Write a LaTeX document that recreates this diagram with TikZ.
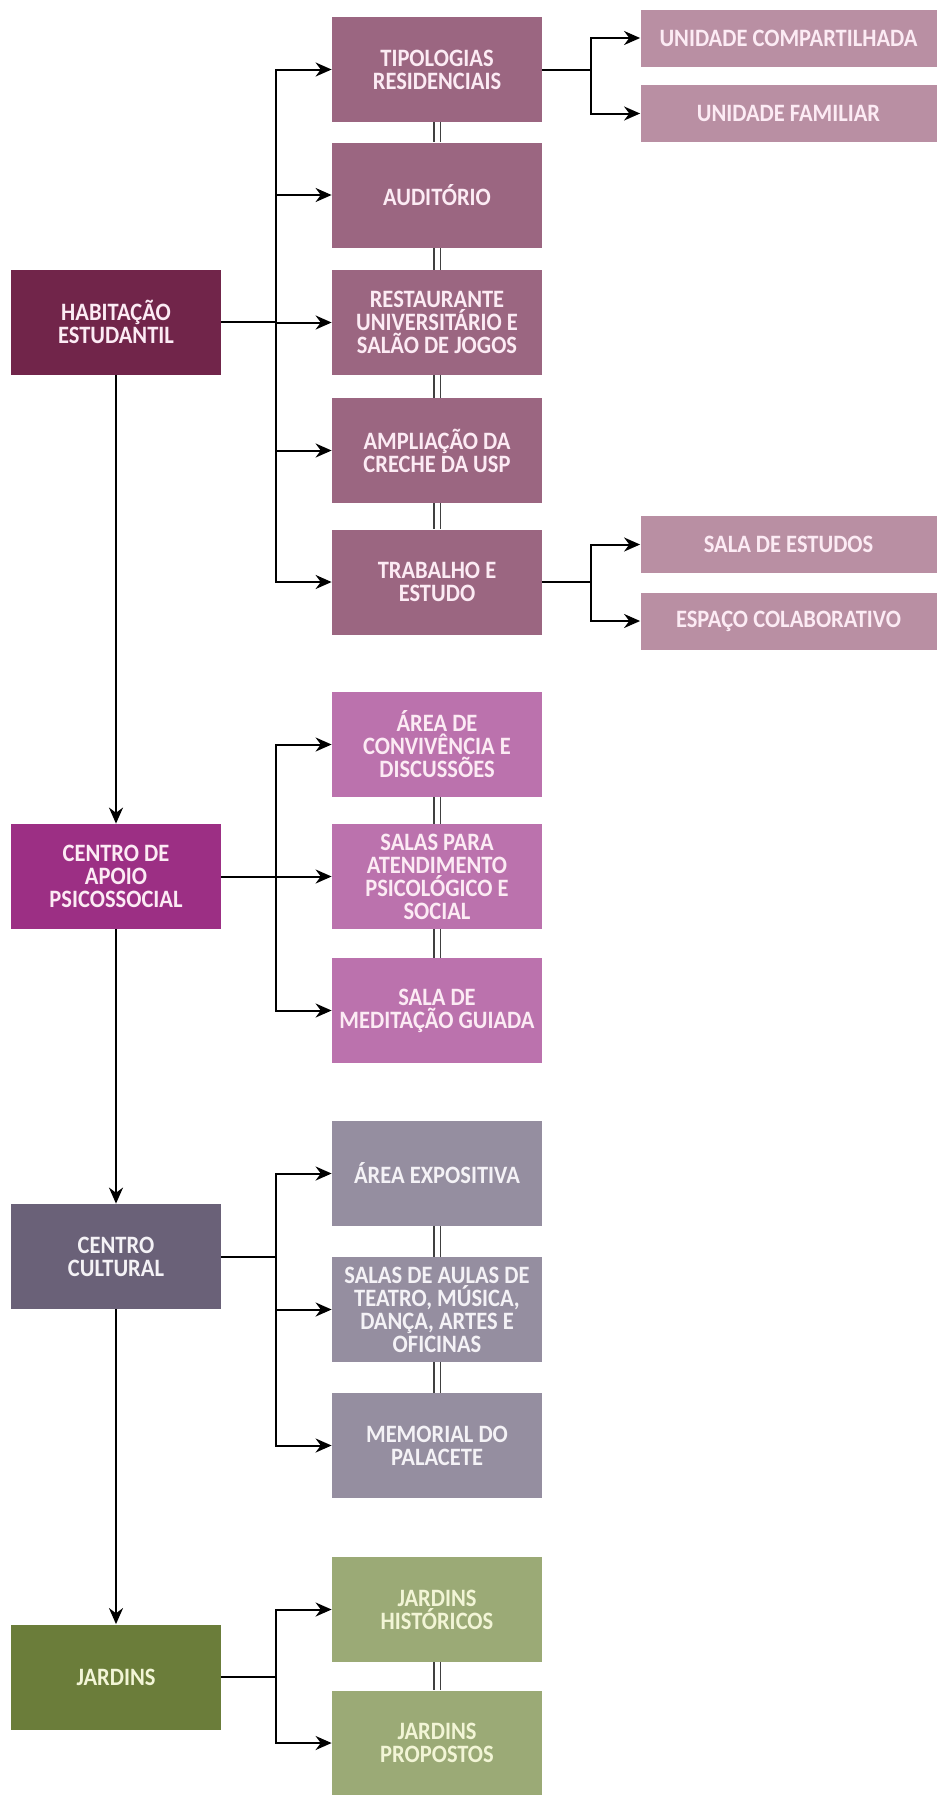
\documentclass[tikz,border=0pt]{standalone}
\usepackage{tikz}
\usepackage{fontspec,xcolor}
\usetikzlibrary{arrows.meta}
\setmainfont{Carlito}
\newfontfamily\boxFamily{Carlito}[FakeStretch=0.9]
\definecolor{habMain}{HTML}{71254A}
\definecolor{habItem}{HTML}{9B6681}
\definecolor{habSub}{HTML}{B98FA3}
\definecolor{apoioMain}{HTML}{9C2F84}
\definecolor{apoioItem}{HTML}{BB72AD}
\definecolor{cultMain}{HTML}{6A6178}
\definecolor{cultItem}{HTML}{958EA0}
\definecolor{jardMain}{HTML}{6B7D3A}
\definecolor{jardItem}{HTML}{9BAA76}
\definecolor{pinkText}{HTML}{FCEBF4}
\definecolor{greyText}{HTML}{F4F2F6}
\definecolor{greenText}{HTML}{F2F5D6}
\newcommand{\boxFont}{\boxFamily\bfseries\fontsize{12.5}{11.5}\selectfont}

\tikzset{
  block/.style={rectangle, inner sep=0pt, align=center, font=\boxFont,
    minimum width=105pt, minimum height=52.5pt},
  habBlock/.style={block, fill=habItem, text=pinkText},
  apoioBlock/.style={block, fill=apoioItem, text=pinkText},
  cultBlock/.style={block, fill=cultItem, text=greyText},
  jardBlock/.style={block, fill=jardItem, text=greenText},
  subBlock/.style={block, minimum width=148pt, minimum height=28.5pt,
    fill=habSub, text=pinkText},
  link/.style={line width=1pt},
  arrowLink/.style={link, -{Stealth[length=8pt,width=7pt]}},
  twin/.style={draw=black!75, line width=0.7pt, double=white, double distance=2.5pt}
}

\begin{document}
\begin{tikzpicture}[x=0.5pt,y=-0.5pt]
\useasboundingbox[fill=white] (0,0) rectangle (937,1795);

\node[block, fill=habMain, text=pinkText] (hab) at (116,322) {HABITAÇÃO\\ESTUDANTIL};
\node[block, fill=apoioMain, text=pinkText] (apoio) at (116,876.5) {CENTRO DE\\APOIO\\PSICOSSOCIAL};
\node[block, fill=cultMain, text=greyText] (cult) at (116,1256.5) {CENTRO\\CULTURAL};
\node[block, fill=jardMain, text=greenText] (jard) at (116,1677) {JARDINS};

\node[habBlock] (tipo) at (437,69.5) {TIPOLOGIAS\\RESIDENCIAIS};
\node[habBlock] (aud) at (437,195) {AUDITÓRIO};
\node[habBlock] (rest) at (437,322.5) {RESTAURANTE\\UNIVERSITÁRIO E\\SALÃO DE JOGOS};
\node[habBlock] (ampl) at (437,450.5) {AMPLIAÇÃO DA\\CRECHE DA USP};
\node[habBlock] (trab) at (437,582) {TRABALHO E\\ESTUDO};

\node[subBlock] (comp) at (788.5,38) {UNIDADE COMPARTILHADA};
\node[subBlock] (fam) at (788.5,113.5) {UNIDADE FAMILIAR};
\node[subBlock] (estud) at (788.5,544.5) {SALA DE ESTUDOS};
\node[subBlock] (colab) at (788.5,621) {ESPAÇO COLABORATIVO};

\node[apoioBlock] (conv) at (437,744.5) {ÁREA DE\\CONVIVÊNCIA E\\DISCUSSÕES};
\node[apoioBlock] (atend) at (437,876.5) {SALAS PARA\\ATENDIMENTO\\PSICOLÓGICO E\\SOCIAL};
\node[apoioBlock] (medit) at (437,1010.5) {SALA DE\\MEDITAÇÃO GUIADA};

\node[cultBlock] (expo) at (437,1173.5) {ÁREA EXPOSITIVA};
\node[cultBlock] (aulas) at (437,1309.5) {SALAS DE AULAS DE\\TEATRO, MÚSICA,\\DANÇA, ARTES E\\OFICINAS};
\node[cultBlock] (memo) at (437,1445.5) {MEMORIAL DO\\PALACETE};

\node[jardBlock] (hist) at (437,1609.5) {JARDINS\\HISTÓRICOS};
\node[jardBlock] (prop) at (437,1743) {JARDINS\\PROPOSTOS};

\coordinate (habBus) at (276,322);
\coordinate (apoioBus) at (276,876.5);
\coordinate (cultBus) at (276,1256.5);
\coordinate (jardBus) at (276,1677);
\coordinate (tipoBus) at (591,69.5);
\coordinate (trabBus) at (591,582);

\draw[arrowLink] (hab) -- (apoio);
\draw[arrowLink] (apoio) -- (cult);
\draw[arrowLink] (cult) -- (jard);

\draw[link] (hab.east) -- (habBus);
\draw[link] (apoio.east) -- (apoioBus);
\draw[link] (cult.east) -- (cultBus);
\draw[link] (jard.east) -- (jardBus);
\draw[link] (tipo.east) -- (tipoBus);
\draw[link] (trab.east) -- (trabBus);

\foreach \n in {tipo,aud,rest,ampl,trab}
  \draw[arrowLink] (habBus) |- (\n.west);
\foreach \n in {conv,atend,medit}
  \draw[arrowLink] (apoioBus) |- (\n.west);
\foreach \n in {expo,aulas,memo}
  \draw[arrowLink] (cultBus) |- (\n.west);
\foreach \n in {hist,prop}
  \draw[arrowLink] (jardBus) |- (\n.west);
\foreach \n in {comp,fam}
  \draw[arrowLink] (tipoBus) |- (\n.west);
\foreach \n in {estud,colab}
  \draw[arrowLink] (trabBus) |- (\n.west);

\foreach \a/\b in {tipo/aud,aud/rest,rest/ampl,ampl/trab,conv/atend,atend/medit,expo/aulas,aulas/memo,hist/prop}
  \draw[twin] (\a) -- (\b);
\end{tikzpicture}
\end{document}
